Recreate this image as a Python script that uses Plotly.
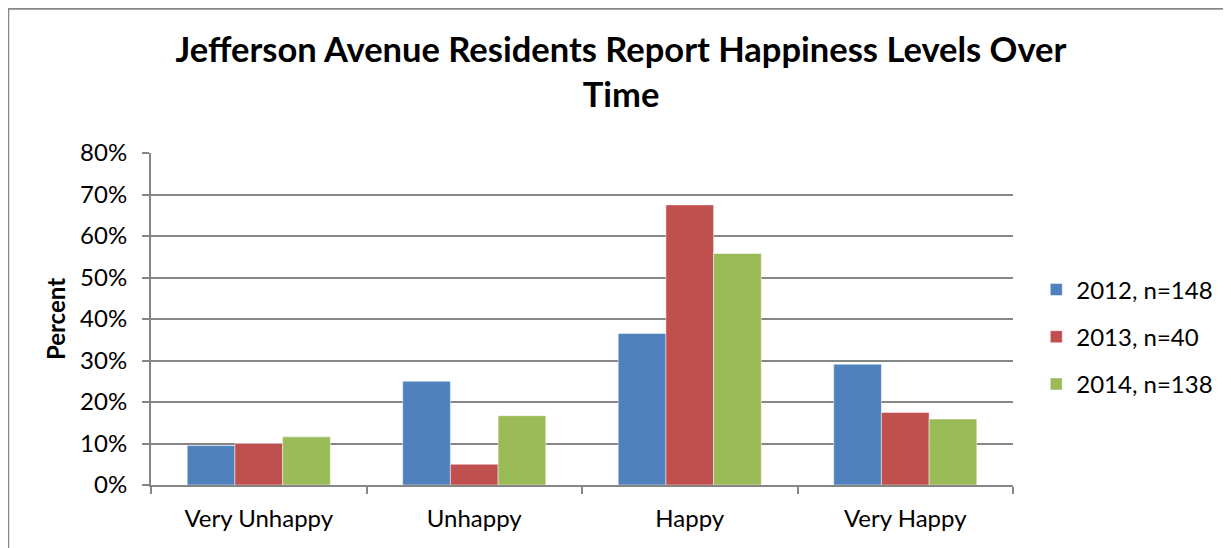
import plotly.graph_objects as go

categories = ["Very Unhappy", "Unhappy", "Happy", "Very Happy"]
series_names = ["2012, n=148", "2013, n=40", "2014, n=138"]
values_2012 = [9.5, 25.0, 36.5, 29.1]
values_2013 = [10.0, 5.0, 67.5, 17.5]
values_2014 = [11.6, 16.7, 55.8, 15.9]
colors = ["#4F81BD", "#C0504D", "#9BBB59"]
y_ticks = [0, 10, 20, 30, 40, 50, 60, 70, 80]
y_tick_labels = [f"{v}%" for v in y_ticks]

FONT = "Lato"
GRID = "#868686"

# page body has an 8px margin; figure sized to fit the 1231x548 window
W, H = 1223, 540
L, T, PW, PH = 143, 145, 862, 332
R, B = W - L - PW, H - T - PH

fig = go.Figure()
for i, (name, vals) in enumerate(zip(series_names, [values_2012, values_2013, values_2014])):
    fig.add_trace(go.Bar(
        x=categories, y=vals, name=name,
        marker=dict(color=colors[i], line=dict(color="rgba(255,255,255,0.6)", width=0.8)),
        legendgroup=f"g{i}",
    ))

fig.update_layout(
    width=W, height=H,
    paper_bgcolor="white", plot_bgcolor="white",
    barmode="group", bargap=0.336, bargroupgap=0,
    margin=dict(l=L, r=R, t=T, b=B, autoexpand=False),
    title=dict(
        text="Jefferson Avenue Residents Report Happiness Levels Over<br>Time",
        x=613 / W, xanchor="center", y=1 - 54 / H, yanchor="top",
        font=dict(family=FONT, size=34.5, color="black", weight="bold"),
    ),
    font=dict(family=FONT, size=24, color="black"),
    showlegend=True,
    legend=dict(
        x=1.027, xanchor="left", y=0.446, yanchor="middle",
        font=dict(family=FONT, size=24, color="black"),
        tracegroupgap=13, itemwidth=30,
        bgcolor="rgba(0,0,0,0)",
    ),
    xaxis=dict(
        type="category", tickson="boundaries",
        showgrid=False, showline=True, linecolor=GRID, linewidth=2,
        ticks="outside", ticklen=7, tickwidth=2, tickcolor=GRID,
        ticklabelstandoff=11,
        tickfont=dict(family=FONT, size=24, color="black"),
    ),
    yaxis=dict(
        range=[0, 80], tickvals=y_ticks, ticktext=y_tick_labels,
        showgrid=True, gridcolor=GRID, gridwidth=2,
        showline=True, linecolor=GRID, linewidth=2,
        ticks="outside", ticklen=7, tickwidth=2, tickcolor=GRID,
        ticklabelstandoff=10,
        zeroline=False,
        tickfont=dict(family=FONT, size=24, color="black"),
        title=dict(text="<b>Percent</b>", font=dict(family=FONT, size=24, color="black"), standoff=8),
    ),
)

# chart frame (top and left border of the embedded chart object)
fx0 = (0 - L) / PW
fy_top = (H - B - 0.5) / PH
fig.add_shape(type="line", xref="paper", yref="paper",
              x0=fx0, x1=(W - L) / PW, y0=fy_top, y1=fy_top,
              line=dict(color="#888888", width=2.5))
fig.add_shape(type="line", xref="paper", yref="paper",
              x0=fx0, x1=fx0, y0=-B / PH, y1=fy_top,
              line=dict(color="#888888", width=2.5))

fig.write_html("out.html")
